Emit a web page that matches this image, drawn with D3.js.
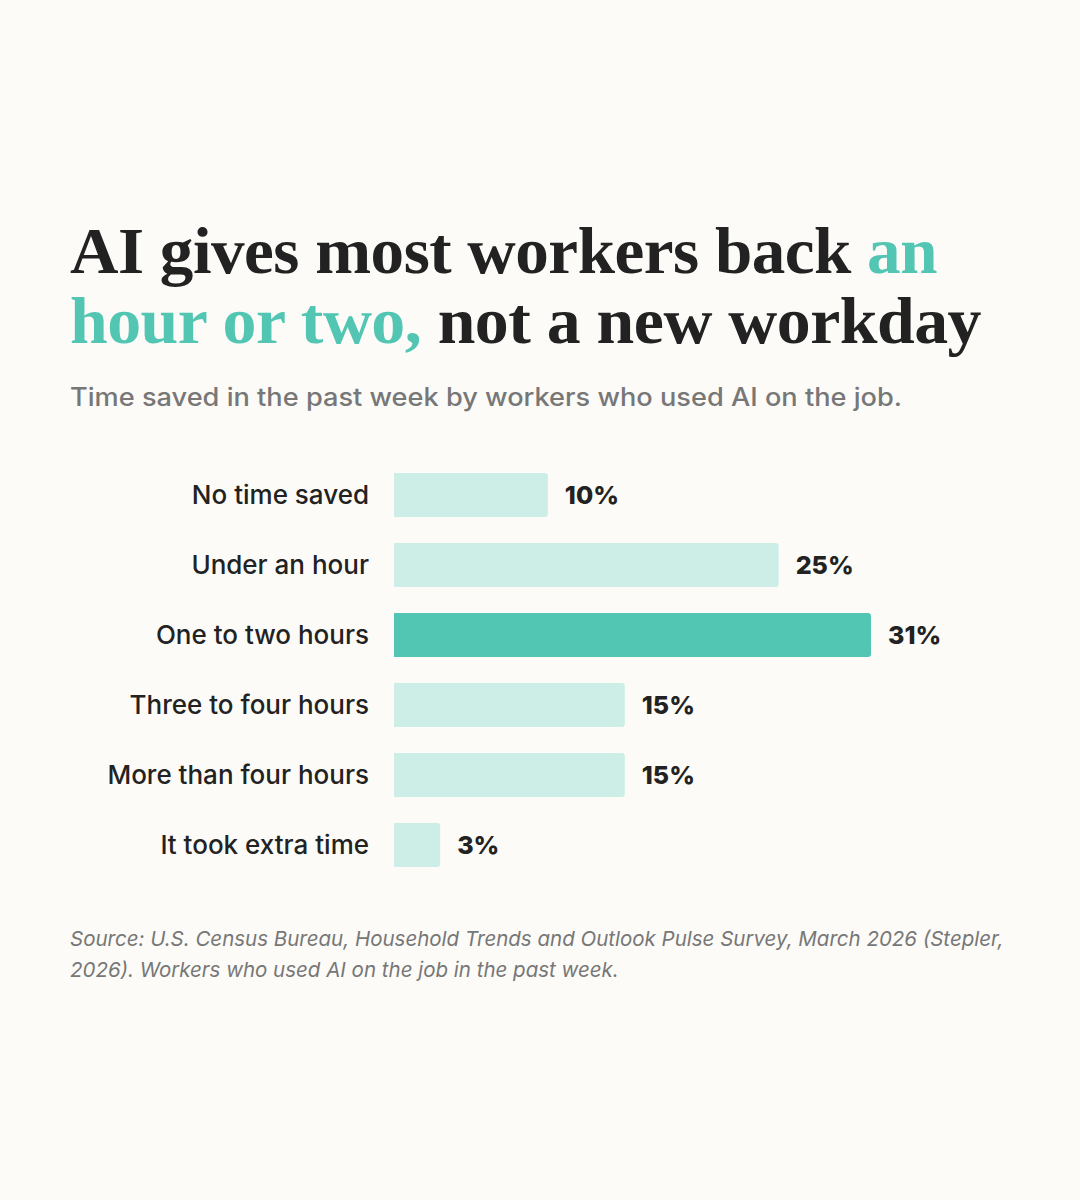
<!DOCTYPE html>
<html>
<head>
<meta charset="utf-8">
<script src="https://cdn.jsdelivr.net/npm/d3@7"></script>
<style>
  html, body { margin: 0; padding: 0; background: #fcfbf7; }
</style>
</head>
<body>
<div id="viz-container"></div>
<script>
// data
let categories = ["No time saved", "Under an hour", "One to two hours", "Three to four hours", "More than four hours", "It took extra time"];
let shares = [10, 25, 31, 15, 15, 3];
let highlight = "One to two hours";

let titleLine1 = [["AI gives most workers back ", "#222"], ["an", "#52c6b3"]];
let titleLine2 = [["hour or two,", "#52c6b3"], [" not a new workday", "#222"]];
let subtitle = "Time saved in the past week by workers who used AI on the job.";
let sourceLines = [
  "Source: U.S. Census Bureau, Household Trends and Outlook Pulse Survey, March 2026 (Stepler,",
  "2026). Workers who used AI on the job in the past week."
];

let rows = categories.map((c, i) => ({ label: c, value: shares[i] }));

let viz = d3.select("#viz-container")
  .append("svg")
    .attr("width", 1080)
    .attr("height", 1200)
    .style("background", "#fcfbf7");

// title
function titleLine(parts, y, width) {
  let t = viz.append("text")
    .attr("x", 70)
    .attr("y", y)
    .attr("font-family", "'Liberation Serif', 'DejaVu Serif', serif")
    .attr("font-weight", 700)
    .attr("font-size", 66)
    .attr("letter-spacing", -0.5);
  parts.forEach(p => t.append("tspan").attr("fill", p[1]).text(p[0]));
  t.attr("textLength", width).attr("lengthAdjust", "spacingAndGlyphs");
}
titleLine(titleLine1, 273, 867);
titleLine(titleLine2, 343, 911);

viz.append("text")
  .attr("x", 70)
  .attr("y", 406)
  .attr("fill", "#777")
  .attr("font-family", "Inter, sans-serif")
  .attr("font-weight", 500)
  .attr("font-size", 25)
  .attr("textLength", 832)
  .attr("lengthAdjust", "spacingAndGlyphs")
  .text(subtitle);

// scales
let x = d3.scaleLinear().domain([0, d3.max(shares)]).range([0, 477]);
let y = d3.scaleBand().domain(categories).range([460, 880])
  .paddingInner(26 / 70).paddingOuter(13 / 70);
let x0 = 394;

function barPath(d) {
  let w = x(d.value), h = y.bandwidth(), r = 3;
  let top = y(d.label);
  let p = d3.path();
  p.moveTo(x0, top);
  p.lineTo(x0 + w - r, top);
  p.arcTo(x0 + w, top, x0 + w, top + r, r);
  p.lineTo(x0 + w, top + h - r);
  p.arcTo(x0 + w, top + h, x0 + w - r, top + h, r);
  p.lineTo(x0, top + h);
  p.closePath();
  return p.toString();
}

let groups = viz.selectAll(".datagroup").data(rows)
  .enter()
    .append("g")
    .attr("class", "datagroup");

groups.append("path")
  .attr("d", barPath)
  .attr("fill", d => d.label == highlight ? "#52c6b3" : "#cdeee6");

groups.append("text")
  .attr("x", 369)
  .attr("y", d => y(d.label) + y.bandwidth() / 2)
  .attr("dy", "0.35em")
  .attr("text-anchor", "end")
  .attr("fill", "#222")
  .attr("font-family", "Inter, sans-serif")
  .attr("font-weight", 500)
  .attr("font-size", 26)
  .text(d => d.label);

groups.append("text")
  .attr("x", d => x0 + x(d.value) + 17)
  .attr("y", d => y(d.label) + y.bandwidth() / 2)
  .attr("dy", "0.36em")
  .attr("fill", "#222")
  .attr("font-family", "Inter, sans-serif")
  .attr("font-weight", 800)
  .attr("font-size", 25)
  .text(d => d.value + "%");

// source
viz.selectAll(".source").data(sourceLines)
  .enter()
    .append("text")
    .attr("class", "source")
    .attr("x", 70)
    .attr("y", (d, i) => 946 + i * 31)
    .attr("fill", "#777")
    .attr("font-family", "Inter, sans-serif")
    .attr("font-style", "italic")
    .attr("font-size", 20.5)
    .text(d => d);
</script>
</body>
</html>
